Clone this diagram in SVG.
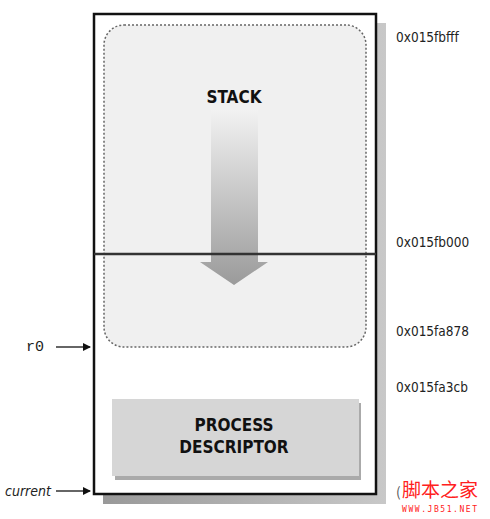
<svg xmlns="http://www.w3.org/2000/svg" width="490" height="519" viewBox="0 0 490 519">
<defs>
<linearGradient id="ag" x1="0" y1="0" x2="0" y2="1">
<stop offset="0" stop-color="#f2f2f2"/>
<stop offset="1" stop-color="#9a9a9a"/>
</linearGradient>
<linearGradient id="sh" x1="0" y1="0" x2="1" y2="0">
<stop offset="0" stop-color="#999"/>
<stop offset="1" stop-color="#c8c8c8"/>
</linearGradient>
<marker id="ah" markerWidth="8" markerHeight="8" refX="7" refY="4" orient="auto" markerUnits="userSpaceOnUse">
<path d="M0,0 L8,4 L0,8 z" fill="#111"/>
</marker>
<style>
.addr{font-family:"DejaVu Sans Condensed","Liberation Sans Narrow","Liberation Sans",sans-serif;font-stretch:condensed;font-size:13.5px;fill:#222}
.lbl{font-family:"DejaVu Sans Condensed","Liberation Sans Narrow","Liberation Sans",sans-serif;font-stretch:condensed;font-weight:bold;font-size:17px;fill:#111;text-anchor:middle}
.conn{stroke:#333;stroke-width:1.5;fill:none;marker-end:url(#ah)}
</style>
</defs>
<g id="memory">
<rect x="103" y="23" width="283" height="481" fill="url(#sh)"/>
<rect x="94" y="14" width="282" height="480" fill="#fff" stroke="#111" stroke-width="2.5"/>
</g>
<g id="stack">
<rect x="104" y="25" width="262" height="322" rx="20" fill="#f0f0f0" stroke="#666" stroke-width="1.5" stroke-dasharray="2,2"/>
<text class="lbl" x="234" y="103">STACK</text>
<path d="M211,110 H258 V262 H268 L234,285 L200,262 H211 Z" fill="url(#ag)"/>
</g>
<g id="boundary">
<line x1="94" y1="254" x2="376" y2="254" stroke="#333" stroke-width="2.5"/>
</g>
<g id="process-descriptor">
<rect x="115" y="403" width="246" height="77" fill="#aaaaaa"/>
<rect x="112" y="399" width="247" height="77" fill="#d6d6d6"/>
<text class="lbl" x="234" y="431">PROCESS</text>
<text class="lbl" x="234" y="453">DESCRIPTOR</text>
</g>
<g id="addresses">
<text class="addr" x="396" y="42">0x015fbfff</text>
<text class="addr" x="396" y="247">0x015fb000</text>
<text class="addr" x="396" y="336">0x015fa878</text>
<text class="addr" x="396" y="392">0x015fa3cb</text>
</g>
<g id="pointers">
<text x="26" y="351" font-family="Liberation Mono,monospace" font-size="15" fill="#222">r0</text>
<text x="5" y="496" font-family="DejaVu Sans Condensed,Liberation Sans,sans-serif" font-stretch="condensed" font-style="italic" font-size="14" fill="#222">current</text>
</g>
<g id="connectors">
<line class="conn" x1="56" y1="347" x2="90" y2="347"/>
<line class="conn" x1="56" y1="491" x2="90" y2="491"/>
</g>
<g id="watermark">
<text x="396" y="497" font-family="Noto Sans CJK SC,sans-serif" font-size="13.5" fill="#555">(</text>
<text x="402" y="497" font-family="Noto Sans CJK SC,sans-serif" font-size="19" fill="#ff2020">脚本之家</text>
<text x="402" y="512" font-family="DejaVu Sans Mono,monospace" font-size="8" fill="#ff2020" textLength="75">WWW.JB51.NET</text>
</g>
</svg>
